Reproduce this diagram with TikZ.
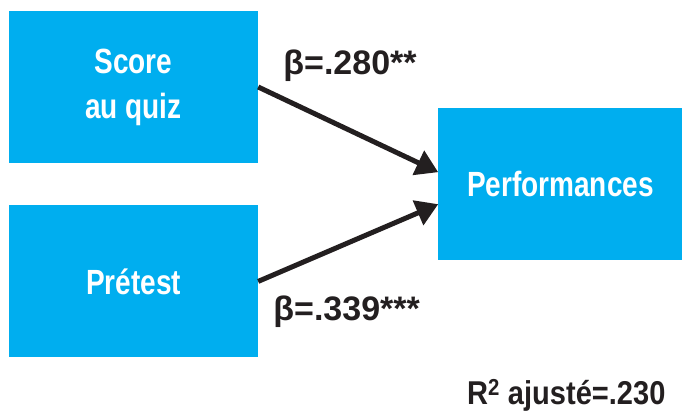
\documentclass[tikz,border=0pt]{standalone}
\usepackage{fontspec}
\setmainfont{Liberation Sans}
\newfontfamily\narrowfont[FakeStretch=0.8]{Liberation Sans}
\newfontfamily\semifont[FakeStretch=0.88]{Liberation Sans}
\usetikzlibrary{positioning}
\usetikzlibrary{calc}
\usetikzlibrary{arrows.meta}
\definecolor{cyanbox}{RGB}{0, 174, 239}
\definecolor{darktext}{RGB}{35, 31, 32}

\begin{document}
\begin{tikzpicture}
  [
    x                = 1pt,
    y                = 1pt,
    node distance    = 42pt,
    every edge/.style = {draw, darktext, line width=5pt, -{Triangle[length=22pt,width=26pt]}}
  ]
  \useasboundingbox (0,0) rectangle (682,414);
  \begin{scope}[predictor/.style={rectangle,fill=cyanbox,text=white,inner sep=0pt,
  			minimum width=249pt,minimum height=152pt,align=center,
  			font=\narrowfont\bfseries\fontsize{35}{45}\selectfont},
  			outcome/.style={predictor,minimum width=244pt},
  			coef/.style={text=darktext,inner sep=0pt,font=\bfseries\fontsize{34}{42}\selectfont}]
  \node [predictor] (score) at (133.5,327) {Score\\au quiz};
  \node [predictor] (pre) [below=of score] {Prétest};
  \coordinate (mid) at ($(score.east)!0.5!(pre.east)$);
  \node [outcome] (perf) [right=180pt of mid] {Performances};
  \node [coef, anchor=base west] (b1) at ([xshift=25pt,yshift=12pt]score.east) {β=.280**};
  \node [coef, anchor=base west] (b2) at ([xshift=15pt,yshift=-39pt]pre.east) {β=.339***};
  \node [coef, anchor=base east, font=\semifont\bfseries\fontsize{33}{40}\selectfont] (r2)
    at ([xshift=-17pt,yshift=-144pt]perf.south east) {R\textsuperscript{2} ajusté=.230};
  \path (score.east) edge ([yshift=12pt]perf.west);
  \path (pre.east) edge ([yshift=-20pt]perf.west);
  \end{scope}
\end{tikzpicture}
\end{document}
